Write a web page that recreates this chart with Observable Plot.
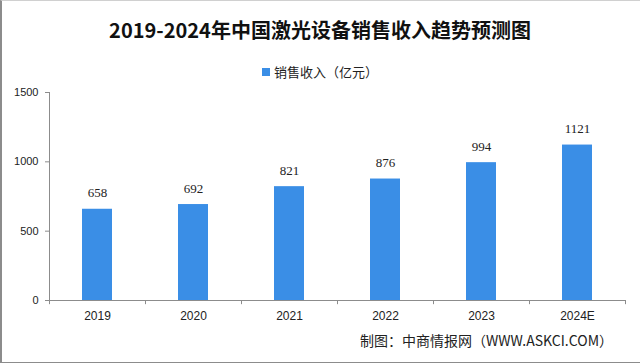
<!DOCTYPE html>
<html>
<head>
<meta charset="utf-8">
<script src="https://cdn.jsdelivr.net/npm/d3@7"></script>
<script src="https://cdn.jsdelivr.net/npm/@observablehq/plot@0.6"></script>
<style>
  html, body { margin: 0; padding: 0; background: #fff; }
  #wrap { position: relative; width: 640px; height: 363px; overflow: hidden; background: #fff; font-family: "Noto Sans CJK SC", sans-serif; }
  #frame { position: absolute; left: 0; top: 0; width: 638px; height: 361px; border-left: 2px solid #8c8c8c; border-bottom: 2px solid #8c8c8c; border-top: 1px solid #d0d0d0; border-right: 1px solid #d0d0d0; box-sizing: content-box; pointer-events: none; }
  #title { position: absolute; top: 17px; left: 0; width: 640px; text-align: center; font-size: 20px; font-weight: 700; line-height: 26px; color: #111; }
  #legend { position: absolute; top: 63px; left: 0; width: 640px; display: flex; justify-content: center; align-items: center; font-size: 13px; line-height: 18px; color: #222; }
  #legend .sw { width: 8px; height: 8px; background: #3a8ee6; margin-right: 4px; }
  #chart { position: absolute; top: 80px; left: 0; }
  #caption { position: absolute; top: 330px; right: 27px; font-size: 14px; line-height: 20px; color: #222; }
</style>
</head>
<body>
<div id="wrap">
  <div id="title">2019-2024年中国激光设备销售收入趋势预测图</div>
  <div id="legend"><span class="sw"></span><span>销售收入（亿元）</span></div>
  <div id="chart"></div>
  <div id="caption">制图：中商情报网（WWW.ASKCI.COM）</div>
  <div id="frame"></div>
</div>
<script>
const years = ["2019", "2020", "2021", "2022", "2023", "2024E"];
const revenue = [658, 692, 821, 876, 994, 1121];
const yTicks = [0, 500, 1000, 1500];

const data = years.map((year, i) => ({year, value: revenue[i]}));

const width = 640, marginLeft = 49, marginRight = 15;
const step = (width - marginLeft - marginRight) / years.length;
const barW = 30;
const inset = (step - barW) / 2;

const chart = Plot.plot({
  width,
  height: 250,
  marginTop: 12,
  marginBottom: 30,
  marginLeft,
  marginRight,
  style: {fontFamily: "Liberation Sans, sans-serif", background: "#fff", color: "#222"},
  x: {type: "band", domain: years, padding: 0, label: null},
  y: {domain: [0, 1500], label: null},
  marks: [
    Plot.barY(data, {x: "year", y: "value", fill: "#3a8ee6", insetLeft: inset, insetRight: inset}),
    Plot.ruleY([0], {stroke: "#8c8c8c"}),
    Plot.frame({anchor: "left", stroke: "#8c8c8c"}),
    Plot.ruleX(years, {x: d => d, dx: -step / 2, y1: 0, y2: -30, stroke: "#8c8c8c", clip: false}),
    Plot.ruleX(years.slice(-1), {x: d => d, dx: step / 2, y1: 0, y2: -30, stroke: "#8c8c8c", clip: false}),
    Plot.axisY(yTicks, {tickSize: 4, tickPadding: 7, fontSize: 11, stroke: "#8c8c8c", fill: "#222", tickFormat: d => String(d), label: null}),
    Plot.axisX({tickSize: 0, tickPadding: 11, fontSize: 12, fill: "#222", label: null}),
    Plot.text(data, {x: "year", y: "value", text: d => String(d.value), dy: -16, fontSize: 13, fontFamily: "Liberation Serif, serif", fill: "#222"})
  ]
});
document.getElementById("chart").appendChild(chart);
</script>
</body>
</html>
